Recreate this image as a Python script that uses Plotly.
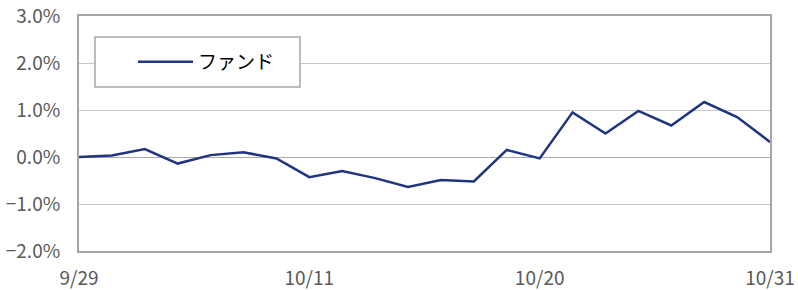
import plotly.graph_objects as go

dates = ["9/29", "10/2", "10/3", "10/4", "10/5", "10/6", "10/10", "10/11", "10/12", "10/13",
         "10/16", "10/17", "10/18", "10/19", "10/20", "10/23", "10/24", "10/25", "10/26",
         "10/27", "10/30", "10/31"]
fund = [0.00, 0.03, 0.17, -0.14, 0.04, 0.10, -0.03, -0.43, -0.30, -0.45,
        -0.64, -0.49, -0.52, 0.15, -0.03, 0.95, 0.50, 0.98, 0.67, 1.17, 0.85, 0.32]
x_ticks = ["9/29", "10/11", "10/20", "10/31"]
y_ticks = [-2, -1, 0, 1, 2, 3]
y_labels = ["−2.0%", "−1.0%", "0.0%", "1.0%", "2.0%", "3.0%"]

fig = go.Figure()
fig.add_trace(go.Scatter(x=dates, y=fund, mode="lines", name="ファンド",
                         line=dict(color="#1f3582", width=2.5)))

W, H = 798, 290
L, R, T, B = 79, 28, 16, 39
pw = W - L - R
ph = H - T - B

def px_x(p):
    return (p - L) / pw

def px_y(p):
    return (H - B - p) / ph

fig.add_shape(type="rect", xref="paper", yref="paper",
              x0=px_x(95), x1=px_x(300), y0=px_y(87), y1=px_y(37),
              line=dict(color="#a6a6a6", width=1.5), fillcolor="white", layer="above")

fig.update_layout(
    width=W, height=H,
    margin=dict(l=L, r=R, t=T, b=B, pad=0),
    paper_bgcolor="white", plot_bgcolor="white",
    font=dict(family="Noto Sans CJK JP", color="#595959", size=19),
    showlegend=True,
    legend=dict(x=px_x(133), y=px_y(62), xanchor="left", yanchor="middle",
                bgcolor="rgba(0,0,0,0)", borderwidth=0, itemwidth=55,
                font=dict(size=19, color="#000000")),
    xaxis=dict(type="category", range=[0, len(dates) - 1], tickmode="array",
               tickvals=x_ticks, ticktext=x_ticks, showgrid=False, automargin=False,
               showline=True, mirror=True, linecolor="#a6a6a6", linewidth=2,
               ticks="", ticklabelstandoff=9, tickfont=dict(size=19, color="#595959")),
    yaxis=dict(range=[-2, 3], tickmode="array", tickvals=y_ticks, ticktext=y_labels,
               showgrid=True, gridcolor="#c8c8c8", automargin=False,
               gridwidth=1, zeroline=True, zerolinecolor="#a8a8a8", zerolinewidth=1,
               showline=True, mirror=True, linecolor="#a6a6a6", linewidth=2,
               ticks="", ticklabelstandoff=13, tickfont=dict(size=19, color="#595959")),
)

fig.write_html("out.html", config={"displayModeBar": False},
               post_script="document.body.style.margin='0';document.body.style.overflow='hidden';")
